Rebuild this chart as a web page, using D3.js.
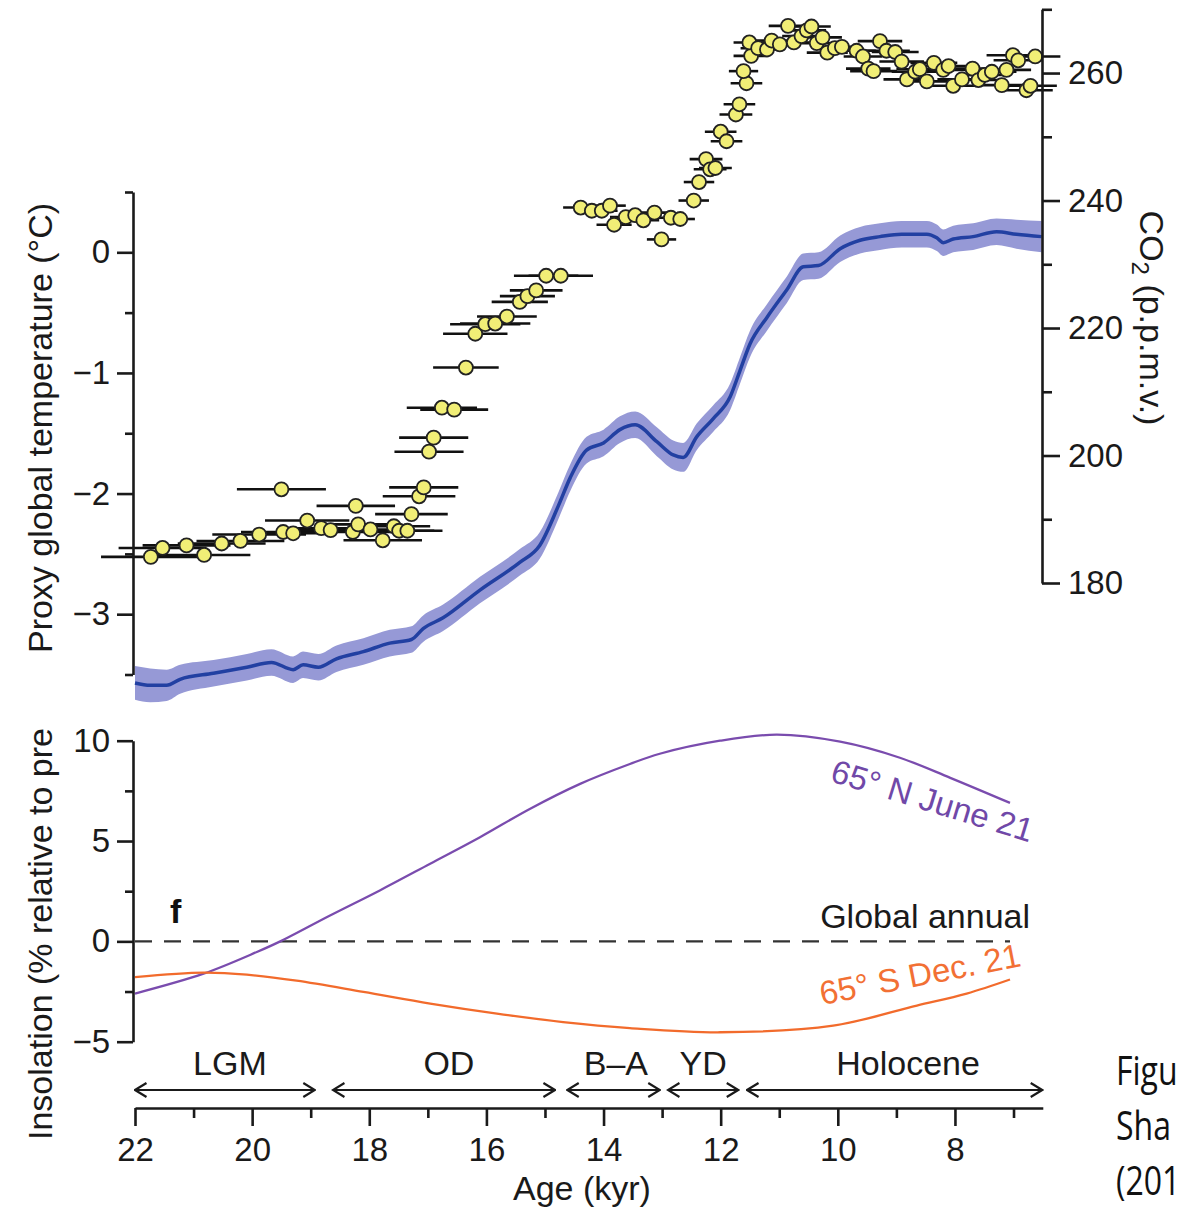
<!DOCTYPE html>
<html>
<head>
<meta charset="utf-8">
<script src="https://cdn.jsdelivr.net/npm/d3@7"></script>
<style>
body { margin: 0; background: #fff; overflow: hidden; }
svg { display: block; font-family: "Liberation Sans", Arial, Helvetica, sans-serif; }
.axis path, .axis line { stroke: #1a1a1a; stroke-width: 2.6; }
.axis text { font-size: 33px; fill: #1a1a1a; font-family: "Liberation Sans", Arial, sans-serif; }
.title { font-size: 34px; fill: #1a1a1a; }
</style>
</head>
<body>
<div id="chart"></div>
<script>
// proxy global temperature stack (deg C) and its 1-sigma band
let tempAge = [22.00, 21.74, 21.46, 21.23, 20.66, 20.09, 19.67, 19.30, 19.13, 18.87, 18.56, 18.10, 17.65, 17.28, 17.08, 16.74, 16.11, 15.43, 15.09, 14.77, 14.57, 14.29, 14.00, 13.72, 13.46, 13.09, 12.81, 12.64, 12.41, 12.13, 11.84, 11.67, 11.50, 11.21, 10.87, 10.59, 10.33, 9.96, 9.62, 9.28, 8.91, 8.48, 8.31, 8.20, 8.03, 7.69, 7.29, 6.95, 6.52];
let tempVal = [-3.57, -3.59, -3.59, -3.54, -3.49, -3.44, -3.40, -3.46, -3.42, -3.44, -3.37, -3.31, -3.24, -3.21, -3.12, -3.03, -2.80, -2.57, -2.43, -2.10, -1.87, -1.64, -1.58, -1.47, -1.43, -1.57, -1.68, -1.70, -1.53, -1.38, -1.20, -0.98, -0.76, -0.54, -0.31, -0.12, -0.11, 0.03, 0.10, 0.13, 0.15, 0.15, 0.12, 0.08, 0.11, 0.13, 0.17, 0.15, 0.13];
let tempErr = [0.14, 0.14, 0.13, 0.12, 0.11, 0.11, 0.11, 0.11, 0.11, 0.11, 0.11, 0.11, 0.11, 0.11, 0.11, 0.11, 0.11, 0.11, 0.11, 0.11, 0.11, 0.11, 0.11, 0.11, 0.11, 0.12, 0.12, 0.12, 0.11, 0.11, 0.11, 0.11, 0.11, 0.11, 0.11, 0.11, 0.11, 0.11, 0.11, 0.11, 0.11, 0.11, 0.11, 0.11, 0.11, 0.11, 0.11, 0.12, 0.13];

// Antarctic CO2 (p.p.m.v.) with age uncertainty (kyr)
let co2Age = [21.73, 21.53, 21.12, 20.82, 20.52, 20.20, 19.88, 19.50, 19.47, 19.30, 19.06, 18.82, 18.66, 18.28, 18.23, 18.19, 17.98, 17.77, 17.58, 17.49, 17.35, 17.28, 17.15, 17.07, 16.98, 16.90, 16.76, 16.55, 16.35, 16.19, 16.02, 15.85, 15.65, 15.43, 15.30, 15.15, 14.98, 14.73,
  14.39, 14.20, 14.03, 13.89, 13.82, 13.62, 13.46, 13.32, 13.13, 13.01, 12.85, 12.69, 12.46, 12.37, 12.25, 12.18, 12.09, 12.00, 11.90, 11.74, 11.68, 11.56, 11.61, 11.48, 11.51, 11.36, 11.21, 11.13, 10.99, 10.85, 10.75, 10.62, 10.53, 10.45, 10.36, 10.26, 10.18, 10.05, 9.93, 9.68, 9.57, 9.48, 9.39, 9.28, 9.17, 9.02, 8.91, 8.82, 8.68, 8.60, 8.48, 8.36, 8.20, 8.11, 8.03, 7.88, 7.70, 7.60, 7.49, 7.37, 7.20, 7.12, 7.01, 6.92, 6.78, 6.71, 6.63];
let co2Val = [184.1, 185.5, 185.9, 184.4, 186.2, 186.6, 187.6, 194.7, 188.0, 187.8, 189.8, 188.6, 188.3, 188.0, 192.1, 189.2, 188.4, 186.7, 188.9, 188.2, 188.2, 190.8, 193.6, 195.0, 200.6, 202.8, 207.5, 207.2, 213.8, 219.1, 220.6, 220.7, 221.8, 224.1, 225.0, 225.9, 228.2, 228.2,
  238.9, 238.4, 238.4, 239.2, 236.2, 237.4, 237.7, 236.9, 238.1, 233.9, 237.3, 237.1, 240.0, 242.9, 246.5, 244.9, 245.1, 250.8, 249.3, 253.5, 255.1, 258.4, 260.3, 262.7, 264.8, 263.9, 263.7, 265.1, 264.5, 267.4, 264.8, 265.8, 266.7, 267.3, 264.7, 265.6, 263.2, 263.9, 264.1, 263.5, 262.6, 260.7, 260.3, 265.0, 263.5, 263.3, 261.8, 259.0, 260.2, 260.6, 258.7, 261.6, 260.5, 261.1, 258.0, 259.0, 260.7, 258.9, 259.7, 260.2, 258.1, 260.5, 262.8, 262.0, 257.3, 258.0, 262.6];
let co2Err = [0.85, 0.75, 0.75, 0.79, 0.75, 0.75, 0.80, 0.76, 0.72, 0.70, 0.72, 0.70, 0.70, 0.65, 0.67, 0.65, 0.65, 0.67, 0.62, 0.60, 0.60, 0.62, 0.62, 0.59, 0.59, 0.59, 0.60, 0.58, 0.56, 0.55, 0.60, 0.60, 0.51, 0.48, 0.47, 0.45, 0.55, 0.55,
  0.30, 0.27, 0.27, 0.27, 0.30, 0.27, 0.27, 0.27, 0.27, 0.25, 0.25, 0.25, 0.26, 0.26, 0.28, 0.28, 0.28, 0.27, 0.27, 0.28, 0.27, 0.27, 0.25, 0.30, 0.27, 0.30, 0.30, 0.30, 0.30, 0.33, 0.30, 0.33, 0.33, 0.33, 0.30, 0.33, 0.35, 0.30, 0.30, 0.33, 0.33, 0.38, 0.40, 0.38, 0.40, 0.40, 0.38, 0.40, 0.40, 0.40, 0.42, 0.40, 0.40, 0.40, 0.42, 0.42, 0.40, 0.42, 0.42, 0.42, 0.45, 0.42, 0.45, 0.42, 0.45, 0.45, 0.43];

// insolation anomalies (% relative to pre-industrial)
let northAge = [22.00, 20.83, 19.92, 19.52, 18.67, 17.82, 16.96, 16.11, 15.26, 14.40, 13.55, 13.04, 12.01, 11.04, 9.96, 8.94, 8.08, 7.06];
let northVal = [-2.60, -1.61, -0.53, 0.00, 1.29, 2.54, 3.87, 5.19, 6.60, 7.85, 8.84, 9.35, 10.00, 10.30, 9.95, 9.15, 8.15, 6.90];
let southAge = [22.00, 20.83, 20.09, 19.24, 18.10, 16.96, 15.82, 14.69, 13.55, 12.01, 10.08, 8.65, 7.80, 7.06];
let southVal = [-1.78, -1.56, -1.66, -1.96, -2.52, -3.10, -3.60, -4.02, -4.32, -4.53, -4.20, -3.20, -2.60, -1.90];
let globalAge = [22.00, 7.06];
let globalVal = [0, 0];

// climate periods
let periodNames = ["LGM", "OD", "B\u2013A", "YD", "Holocene"];
let periodStart = [22.00, 18.62, 14.62, 12.90, 11.55];
let periodEnd = [18.93, 14.83, 13.04, 11.70, 6.51];
let periodLabelAge = [20.38, 16.64, 13.79, 12.30, 8.80];

// ticks
let ageTicks = [22, 20, 18, 16, 14, 12, 10, 8];
let ageMinorTicks = [21, 19, 17, 15, 13, 11, 9, 7];
let tempTicks = [0, -1, -2, -3];
let tempMinorTicks = [0.5, -0.5, -1.5, -2.5, -3.5];
let co2Ticks = [180, 200, 220, 240, 260];
let co2MinorTicks = [190, 210, 230, 250, 270];
let insolTicks = [-5, 0, 5, 10];
let insolMinorTicks = [-2.5, 2.5, 7.5];

// caption fragment visible at the right edge
let caption = ["Figu", "Sha", "(201"];

let width = 1185, height = 1209;

let x = d3.scaleLinear().domain([22, 6.5]).range([135, 1042.8]);
let yT = d3.scaleLinear().domain([-3.5, 0.5]).range([674.5, 192]);
let yC = d3.scaleLinear().domain([180, 270]).range([583, 9.3]);
let yI = d3.scaleLinear().domain([-5, 10]).range([1041.7, 740.7]);

let fmt = d3.format("");

let svg = d3.select("#chart").append("svg")
  .attr("width", width)
  .attr("height", height);

let defs = svg.append("defs");
defs.append("marker")
  .attr("id", "chev")
  .attr("viewBox", "0 -8 14 16")
  .attr("refX", 12.5)
  .attr("refY", 0)
  .attr("markerUnits", "userSpaceOnUse")
  .attr("markerWidth", 14)
  .attr("markerHeight", 16)
  .attr("orient", "auto-start-reverse")
  .append("path")
  .attr("d", "M1,-7 L12.5,0 L1,7")
  .attr("fill", "none")
  .attr("stroke", "#1a1a1a")
  .attr("stroke-width", 2.2);

// ---- temperature band + line
let idxT = d3.range(tempAge.length);
svg.append("path")
  .attr("d", d3.area()
    .x(i => x(tempAge[i]))
    .y0(i => yT(tempVal[i] - tempErr[i]))
    .y1(i => yT(tempVal[i] + tempErr[i]))
    .curve(d3.curveMonotoneX)(idxT))
  .attr("fill", "#9699d6");

svg.append("path")
  .attr("d", d3.line()
    .x(i => x(tempAge[i]))
    .y(i => yT(tempVal[i]))
    .curve(d3.curveMonotoneX)(idxT))
  .attr("fill", "none")
  .attr("stroke", "#2240a2")
  .attr("stroke-width", 3.5);

// ---- CO2 points with age error bars
let idxC = d3.range(co2Age.length);
svg.append("g").selectAll("line")
  .data(idxC)
  .enter()
  .append("line")
  .attr("x1", i => x(co2Age[i] + co2Err[i]))
  .attr("x2", i => x(co2Age[i] - co2Err[i]))
  .attr("y1", i => yC(co2Val[i]))
  .attr("y2", i => yC(co2Val[i]))
  .attr("stroke", "#111")
  .attr("stroke-width", 2.6);

svg.append("g").selectAll("circle")
  .data(idxC)
  .enter()
  .append("circle")
  .attr("cx", i => x(co2Age[i]))
  .attr("cy", i => yC(co2Val[i]))
  .attr("r", 7)
  .attr("fill", "#f1ee76")
  .attr("stroke", "#222")
  .attr("stroke-width", 1.8);

// ---- top panel axes
svg.append("g").attr("class", "axis")
  .attr("transform", "translate(133,0)")
  .call(d3.axisLeft(yT).tickValues(tempTicks).tickSize(16).tickSizeOuter(0).tickPadding(7).tickFormat(fmt));
svg.append("g").attr("class", "axis")
  .attr("transform", "translate(133,0)")
  .call(d3.axisLeft(yT).tickValues(tempMinorTicks).tickSize(8).tickFormat(""))
  .select(".domain").remove();

svg.append("g").attr("class", "axis")
  .attr("transform", "translate(1042,0)")
  .call(d3.axisRight(yC).tickValues(co2Ticks).tickSize(18).tickSizeOuter(0).tickPadding(8).tickFormat(fmt));
svg.append("g").attr("class", "axis")
  .attr("transform", "translate(1042,0)")
  .call(d3.axisRight(yC).tickValues(co2MinorTicks).tickSize(10).tickFormat(""))
  .select(".domain").remove();

svg.append("text")
  .attr("class", "title")
  .attr("text-anchor", "middle")
  .attr("transform", "translate(52,428) rotate(-90)")
  .text("Proxy global temperature (\u00b0C)");

let co2Title = svg.append("text")
  .attr("class", "title")
  .attr("text-anchor", "middle")
  .attr("transform", "translate(1140,318) rotate(90)");
co2Title.append("tspan").text("CO");
co2Title.append("tspan").attr("dy", 8).attr("font-size", "24px").text("2");
co2Title.append("tspan").attr("dy", -8).text(" (p.p.m.v.)");

// ---- insolation panel
svg.append("path")
  .attr("d", d3.line().x((d, i) => x(globalAge[i])).y((d, i) => yI(globalVal[i]))(globalAge))
  .attr("fill", "none")
  .attr("stroke", "#333")
  .attr("stroke-width", 2.4)
  .attr("stroke-dasharray", "17,12");

svg.append("path")
  .attr("d", d3.line().x((d, i) => x(northAge[i])).y((d, i) => yI(northVal[i])).curve(d3.curveCatmullRom)(northAge))
  .attr("fill", "none")
  .attr("stroke", "#7a4cae")
  .attr("stroke-width", 2.3);

svg.append("path")
  .attr("d", d3.line().x((d, i) => x(southAge[i])).y((d, i) => yI(southVal[i])).curve(d3.curveCatmullRom)(southAge))
  .attr("fill", "none")
  .attr("stroke", "#f26b2c")
  .attr("stroke-width", 2.3);

svg.append("g").attr("class", "axis")
  .attr("transform", "translate(133,0)")
  .call(d3.axisLeft(yI).tickValues(insolTicks).tickSize(16).tickSizeOuter(0).tickPadding(7).tickFormat(fmt));
svg.append("g").attr("class", "axis")
  .attr("transform", "translate(133,0)")
  .call(d3.axisLeft(yI).tickValues(insolMinorTicks).tickSize(8).tickFormat(""))
  .select(".domain").remove();

svg.append("text")
  .attr("class", "title")
  .attr("transform", "translate(52,1140) rotate(-90)")
  .text("Insolation (% relative to pre");

svg.append("text")
  .attr("x", 170).attr("y", 923)
  .attr("font-size", "34px")
  .attr("font-weight", "bold")
  .attr("fill", "#111")
  .text("f");

svg.append("text")
  .attr("class", "title")
  .attr("x", 1030).attr("y", 928)
  .attr("text-anchor", "end")
  .attr("fill", "#222")
  .text("Global annual");

svg.append("text")
  .attr("transform", "translate(829,781) rotate(17)")
  .attr("font-size", "33px")
  .attr("fill", "#7048a8")
  .text("65\u00b0 N June 21");

svg.append("text")
  .attr("transform", "translate(822,1005) rotate(-11)")
  .attr("font-size", "33px")
  .attr("fill", "#f27034")
  .text("65\u00b0 S Dec. 21");

// ---- periods
let idxP = d3.range(periodNames.length);
svg.append("g").selectAll("line")
  .data(idxP)
  .enter()
  .append("line")
  .attr("x1", i => x(periodStart[i]))
  .attr("x2", i => x(periodEnd[i]))
  .attr("y1", 1090)
  .attr("y2", 1090)
  .attr("stroke", "#1a1a1a")
  .attr("stroke-width", 2)
  .attr("marker-start", "url(#chev)")
  .attr("marker-end", "url(#chev)");

svg.append("g").selectAll("text")
  .data(idxP)
  .enter()
  .append("text")
  .attr("class", "title")
  .attr("x", i => x(periodLabelAge[i]))
  .attr("y", 1075)
  .attr("text-anchor", "middle")
  .attr("font-size", "32px")
  .text(i => periodNames[i]);

// ---- age axis
svg.append("g").attr("class", "axis")
  .attr("transform", "translate(0,1108)")
  .call(d3.axisBottom(x).tickValues(ageTicks).tickSize(18).tickSizeOuter(0).tickPadding(12).tickFormat(fmt));
svg.append("g").attr("class", "axis")
  .attr("transform", "translate(0,1108)")
  .call(d3.axisBottom(x).tickValues(ageMinorTicks).tickSize(10).tickFormat(""))
  .select(".domain").remove();

svg.append("text")
  .attr("class", "title")
  .attr("x", 582).attr("y", 1200)
  .attr("text-anchor", "middle")
  .text("Age (kyr)");

// ---- caption fragment on the right
svg.append("g").selectAll("text")
  .data(caption)
  .enter()
  .append("text")
  .attr("transform", (d, i) => "translate(1116," + (1085 + i * 55) + ") scale(1,1.25)")
  .attr("font-family", "'Open Sans', 'Noto Sans', sans-serif")
  .attr("font-size", "32px")
  .attr("fill", "#111")
  .text(d => d);
</script>
</body>
</html>
